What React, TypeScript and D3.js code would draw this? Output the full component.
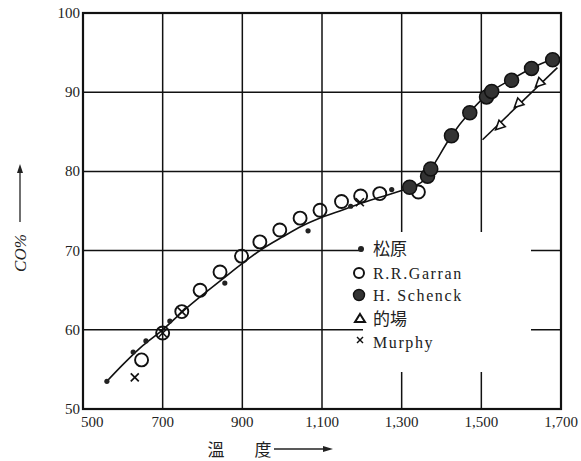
import React from 'react';
import * as d3 from 'd3';

// values (temperature, CO %)
const curve: [number, number][] = [
  [560, 53.5], [600, 55.6], [650, 58.0], [700, 60.0], [750, 62.3], [800, 64.4],
  [850, 66.4], [900, 68.4], [950, 70.2], [1000, 71.7], [1050, 73.1], [1100, 74.2],
  [1150, 75.1], [1200, 76.0], [1250, 76.8], [1300, 77.6], [1330, 78.1], [1360, 79.1],
  [1385, 81.2], [1425, 84.5], [1470, 87.4], [1520, 89.9], [1575, 91.6], [1625, 93.0],
  [1690, 94.4],
];
const matsubara: [number, number][] = [
  [560, 53.5], [626, 57.2], [658, 58.6], [718, 61.1], [856, 65.9], [1065, 72.5], [1172, 75.6], [1275, 77.7],
];
const garran: [number, number][] = [
  [647, 56.2], [700, 59.6], [748, 62.3], [794, 65.0], [844, 67.3], [898, 69.3], [944, 71.1],
  [994, 72.6], [1045, 74.1], [1095, 75.1], [1149, 76.2], [1197, 76.9], [1245, 77.2], [1342, 77.4],
];
const schenck: [number, number][] = [
  [1320, 78.0], [1365, 79.4], [1373, 80.3], [1425, 84.5], [1471, 87.4], [1513, 89.4],
  [1526, 90.1], [1576, 91.5], [1626, 93.0], [1679, 94.1],
];
const matoba: [number, number][] = [[1545, 85.7], [1592, 88.5], [1645, 91.1]];
const matobaLine: [number, number][] = [[1503, 84.0], [1691, 93.1]];
const murphy: [number, number][] = [[630, 54.0], [700, 59.6], [748, 62.3], [1195, 76.1]];

const xTicks = [500, 700, 900, 1100, 1300, 1500, 1700];
const xTickLabels = ['500', '700', '900', '1,100', '1,300', '1,500', '1,700'];
const yTicks = [50, 60, 70, 80, 90, 100];
const legendNames = ['松原', 'R.R.Garran', 'H.  Schenck', '的場', 'Murphy'];

const serif = '"Liberation Serif", "DejaVu Serif", serif';
const cjk = '"Noto Sans CJK JP", sans-serif';

export default function App() {
  const x = d3.scaleLinear().domain([500, 1700]).range([83, 561]);
  const y = d3.scaleLinear().domain([50, 100]).range([409, 13]);

  const line = d3.line<[number, number]>()
    .x(d => x(d[0]))
    .y(d => y(d[1]))
    .curve(d3.curveMonotoneX);
  const straight = d3.line<[number, number]>().x(d => x(d[0])).y(d => y(d[1]));

  // arrowheads on the 的場 line point back down the line
  const a0 = matobaLine[1], a1 = matobaLine[0];
  const ang = Math.atan2(y(a1[1]) - y(a0[1]), x(a1[0]) - x(a0[0])) * 180 / Math.PI;

  const cross = (cx: number, cy: number, s: number, key: string, w = 1.6) => (
    <g key={key} stroke="#111" strokeWidth={w}>
      <line x1={cx - s} y1={cy - s} x2={cx + s} y2={cy + s} />
      <line x1={cx - s} y1={cy + s} x2={cx + s} y2={cy - s} />
    </g>
  );

  const legendX = 360;
  const legendY = [249, 273, 295, 319, 342];

  return (
    <svg width={581} height={461} style={{ position: 'absolute', left: 0, top: 0, background: '#fff' }}>
      {/* grid */}
      <g stroke="#111" strokeWidth={1.5}>
        {xTicks.slice(1, -1).map(t => (
          <line key={'gx' + t} x1={x(t)} x2={x(t)} y1={y(100)} y2={y(50)} />
        ))}
        {yTicks.slice(1, -1).map(t => (
          <line key={'gy' + t} x1={x(500)} x2={x(1700)} y1={y(t)} y2={y(t)} />
        ))}
      </g>
      {/* gap in the grid behind the legend */}
      <rect x={363} y={232} width={168} height={140} fill="#fff" />
      <rect x={x(500)} y={y(100)} width={x(1700) - x(500)} height={y(50) - y(100)} fill="none" stroke="#111" strokeWidth={2.2} />

      {/* tick labels */}
      <g fontFamily={serif} fontSize={15} fill="#222">
        {yTicks.map(t => (
          <text key={'ty' + t} x={80} y={y(t) + 5} textAnchor="end">{t}</text>
        ))}
        {xTicks.map((t, i) => (
          <text key={'tx' + t} x={i === 0 ? x(t) - 2 : x(t)} y={427}
            textAnchor={i === 0 ? 'start' : 'middle'}>{xTickLabels[i]}</text>
        ))}
      </g>

      {/* axis titles */}
      <g transform="translate(26,253) rotate(-90)">
        <text x={0} y={0} textAnchor="middle" fontFamily={serif} fontStyle="italic" fontSize={17} fill="#222">CO%</text>
      </g>
      <line x1={20} y1={222} x2={20} y2={168} stroke="#222" strokeWidth={1.3} />
      <path d="M20,164 L17,173 L23,173 Z" fill="#222" />
      <text x={216} y={456} textAnchor="middle" fontFamily={cjk} fontSize={17} fill="#222">溫</text>
      <text x={263} y={456} textAnchor="middle" fontFamily={cjk} fontSize={17} fill="#222">度</text>
      <line x1={274} y1={449} x2={326} y2={449} stroke="#222" strokeWidth={1.3} />
      <path d="M333,449 L323,446 L323,452 Z" fill="#222" />

      {/* curves */}
      <path d={line(curve) || ''} fill="none" stroke="#111" strokeWidth={1.6} />
      <path d={straight(matobaLine) || ''} fill="none" stroke="#111" strokeWidth={1.6} />

      {/* marks */}
      {garran.map((d, i) => (
        <circle key={'g' + i} cx={x(d[0])} cy={y(d[1])} r={6.5} fill="none" stroke="#111" strokeWidth={1.9} />
      ))}
      {schenck.map((d, i) => (
        <circle key={'s' + i} cx={x(d[0])} cy={y(d[1])} r={7} fill="#333" stroke="#111" strokeWidth={1.5} />
      ))}
      {matsubara.map((d, i) => (
        <circle key={'m' + i} cx={x(d[0])} cy={y(d[1])} r={2.6} fill="#222" />
      ))}
      {murphy.map((d, i) => cross(x(d[0]), y(d[1]), 4, 'x' + i))}
      {matoba.map((d, i) => (
        <path key={'t' + i} transform={`translate(${x(d[0])},${y(d[1])}) rotate(${ang})`}
          d="M5,0 L-4,-4.5 L-4,4.5 Z" fill="#fff" stroke="#111" strokeWidth={1.6} />
      ))}

      {/* legend */}
      <g fill="#222">
        <circle cx={legendX + 1} cy={legendY[0]} r={3} fill="#222" />
        <circle cx={legendX - 1} cy={legendY[1]} r={5} fill="none" stroke="#111" strokeWidth={2} />
        <circle cx={legendX - 1} cy={legendY[2]} r={5.5} fill="#333" stroke="#111" strokeWidth={1.4} />
        <path d={`M${legendX},${legendY[3] - 5} L${legendX + 5},${legendY[3] + 3} L${legendX - 5},${legendY[3] + 3} Z`}
          fill="#fff" stroke="#111" strokeWidth={2} />
        {cross(legendX, legendY[4] - 2, 3, 'lx', 1.4)}
        {legendNames.map((n, i) => {
          const jp = i === 0 || i === 3;
          return (
            <text key={n} x={373} y={legendY[i] + 6}
              fontFamily={jp ? cjk : serif}
              fontSize={jp ? 17 : 16}
              letterSpacing={jp ? 0 : 1.6}>{n}</text>
          );
        })}
      </g>
    </svg>
  );
}
